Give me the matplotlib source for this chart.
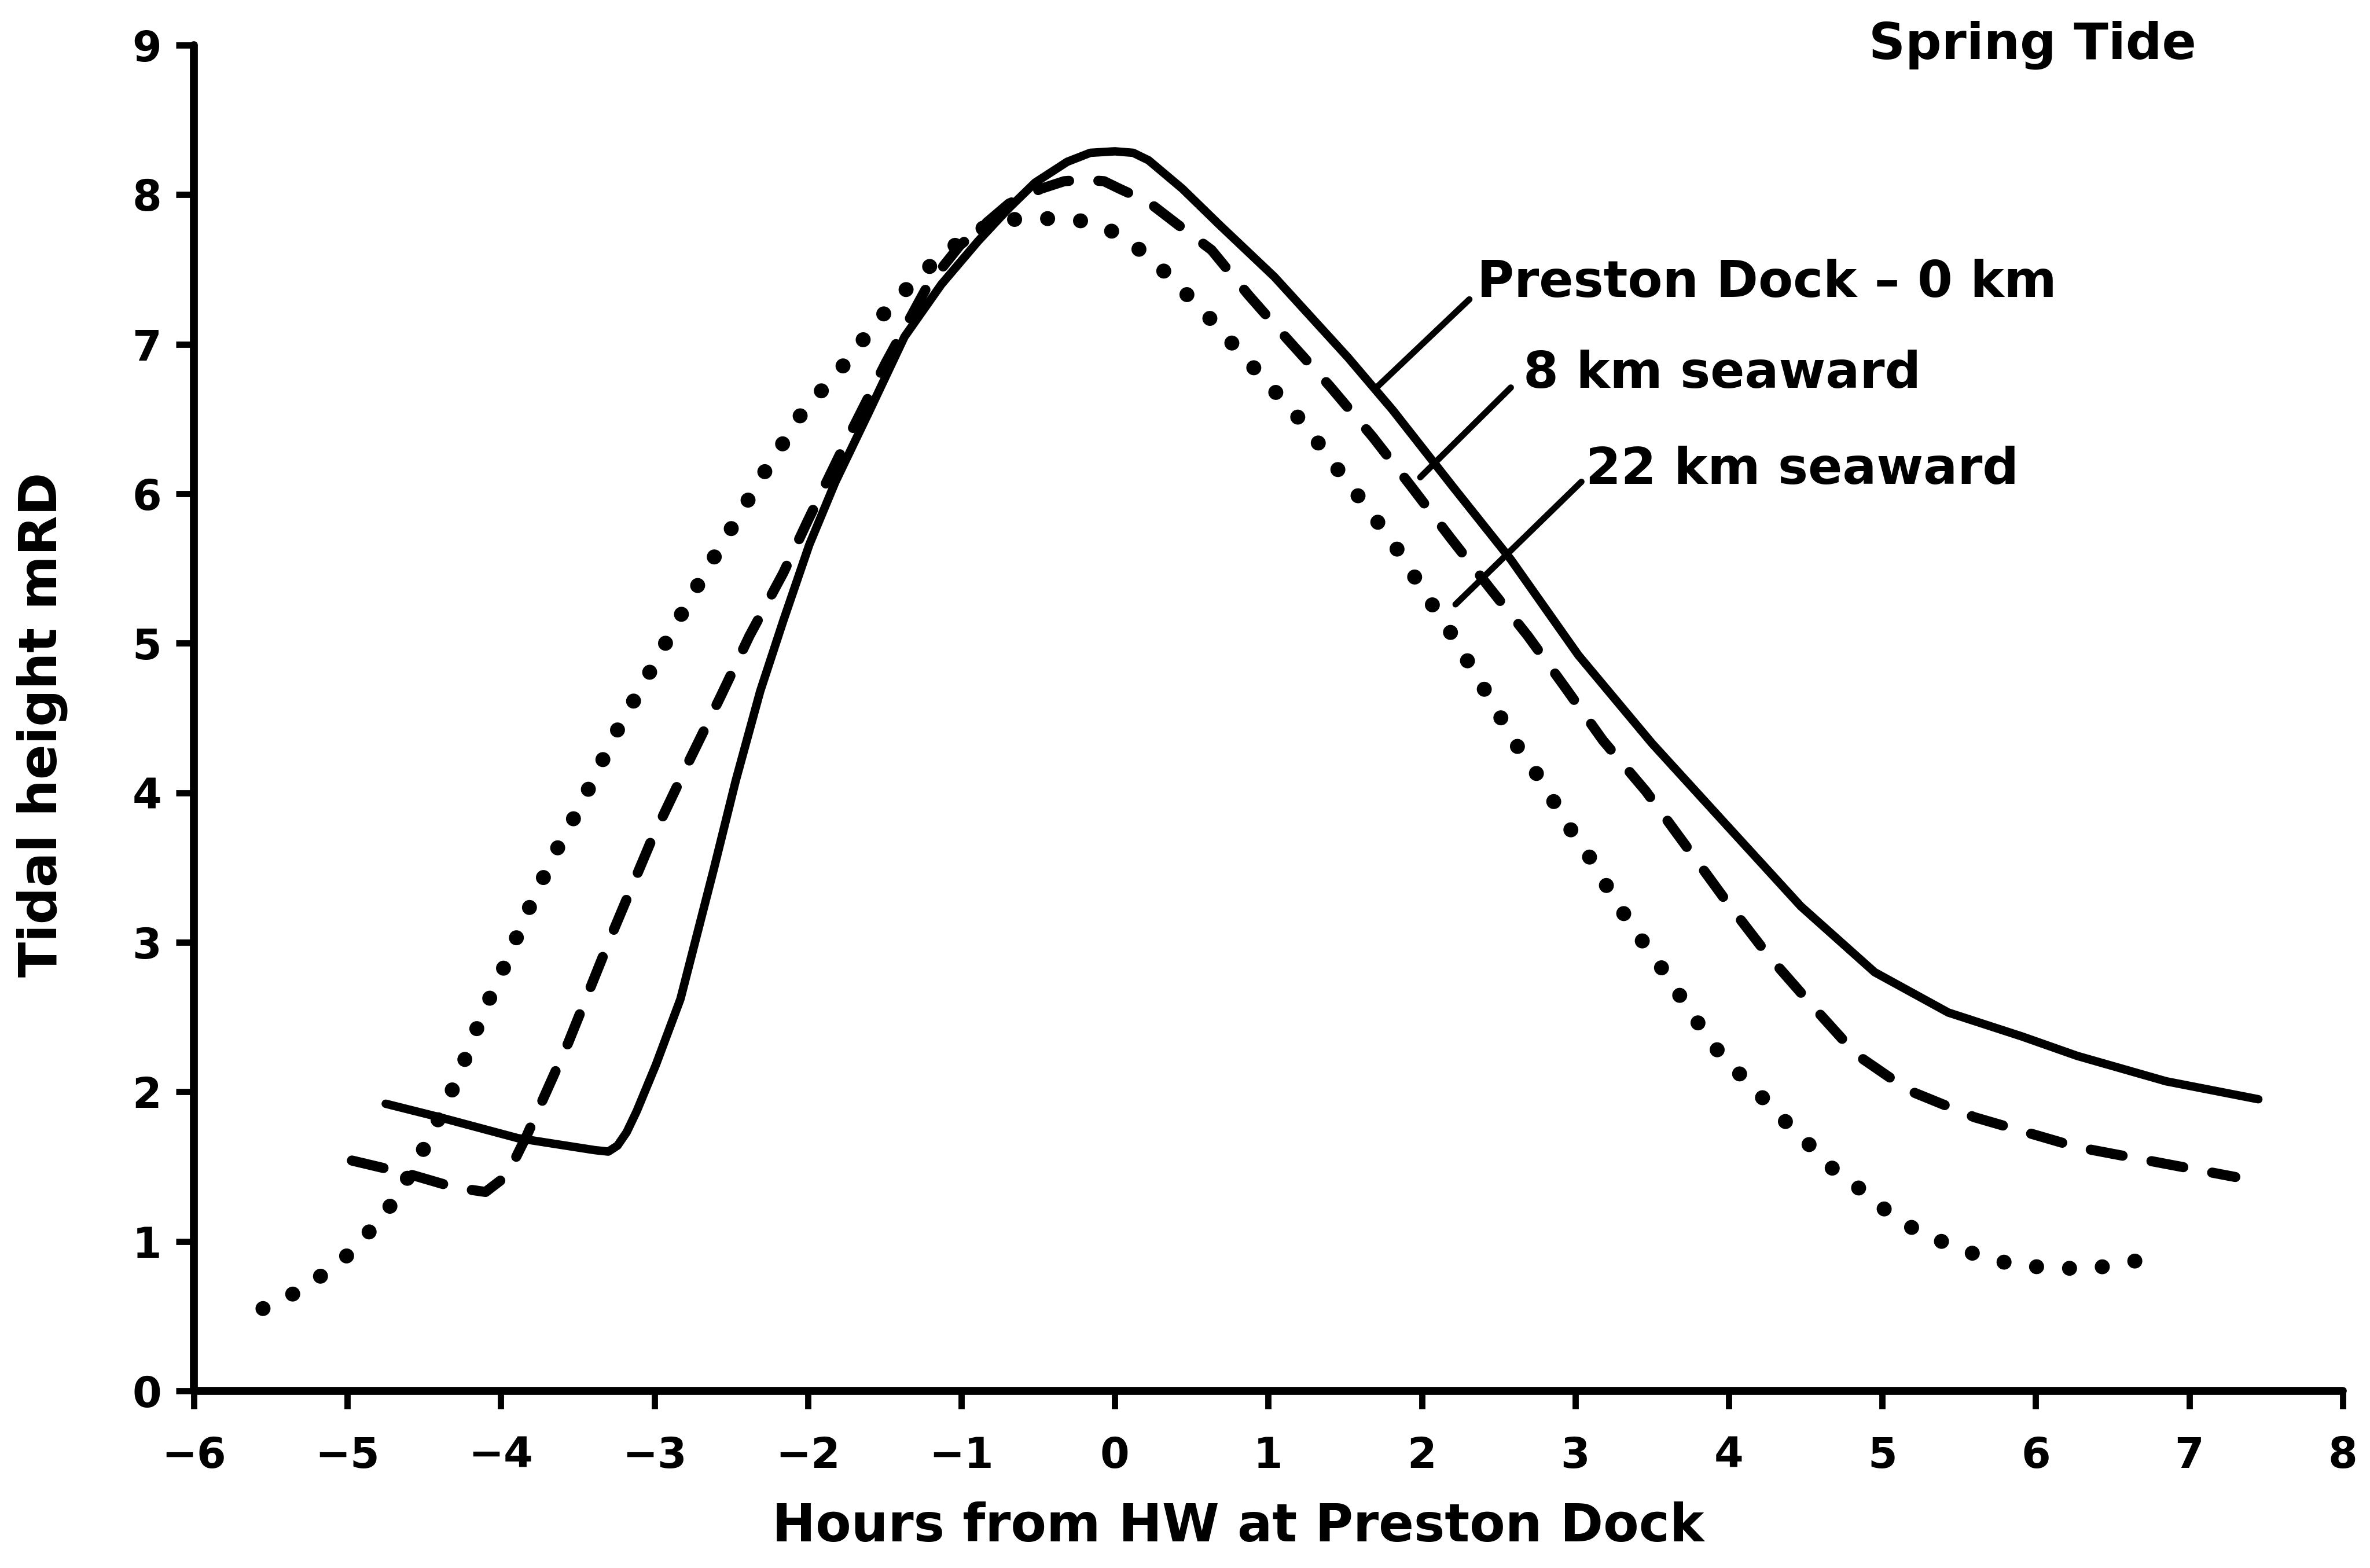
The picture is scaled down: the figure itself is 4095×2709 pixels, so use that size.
import matplotlib
matplotlib.use("Agg")
import matplotlib.pyplot as plt

plt.rcParams['font.family'] = ['DejaVu Sans']
plt.rcParams['font.weight'] = 'bold'

# ---- data ----
# Preston Dock - 0 km (solid)
h_0km = [-4.75, -4.40, -3.89, -3.39, -3.30, -3.24, -3.18, -3.115, -2.99, -2.83, -2.61,
         -2.47, -2.31, -2.16, -1.99, -1.82, -1.60, -1.37, -1.13, -0.89, -0.69, -0.52,
         -0.31, -0.16, 0.0, 0.12, 0.22, 0.44, 0.68, 1.04, 1.52, 1.81, 2.20, 2.58, 3.02,
         3.50, 3.98, 4.47, 4.95, 5.43, 5.91, 6.27, 6.85, 7.45]
v_0km = [1.92, 1.83, 1.69, 1.61, 1.60, 1.64, 1.73, 1.87, 2.18, 2.62, 3.50,
         4.08, 4.68, 5.15, 5.66, 6.08, 6.55, 7.05, 7.40, 7.69, 7.91, 8.08,
         8.22, 8.28, 8.29, 8.28, 8.23, 8.04, 7.80, 7.45, 6.91, 6.56, 6.05, 5.56, 4.92,
         4.33, 3.79, 3.24, 2.80, 2.53, 2.37, 2.24, 2.07, 1.95]

# 8 km seaward (dashed)
h_8km = [-4.97, -4.60, -4.30, -4.10, -3.96, -3.83, -3.56, -3.29, -3.02, -2.77, -2.57,
         -2.38, -2.16, -2.00, -1.75, -1.49, -1.22, -1.01, -0.69, -0.48, -0.33, -0.20,
         -0.07, 0.03, 0.22, 0.41, 0.63, 0.87, 1.11, 1.40, 1.68, 1.93, 2.19, 2.45, 2.69,
         2.93, 3.18, 3.46, 3.71, 3.98, 4.25, 4.54, 4.83, 5.17, 5.60, 6.27, 7.30]
v_8km = [1.54, 1.45, 1.36, 1.33, 1.44, 1.71, 2.33, 3.02, 3.68, 4.22, 4.64,
         5.05, 5.47, 5.82, 6.35, 6.88, 7.39, 7.66, 7.94, 8.04, 8.09, 8.10,
         8.09, 8.04, 7.95, 7.80, 7.63, 7.33, 7.05, 6.72, 6.38, 6.05, 5.70, 5.36, 5.05,
         4.71, 4.35, 4.01, 3.66, 3.28, 2.92, 2.58, 2.25, 2.01, 1.83, 1.63, 1.43]

# 22 km seaward (dotted)
h_22km = [-5.55, -5.35, -5.17, -4.97, -4.81, -4.68, -4.48, -4.29, -4.15, -4.05, -3.94,
          -3.85, -3.76, -3.68, -3.57, -3.46, -3.36, -3.24, -3.11, -2.99, -2.88, -2.76,
          -2.66, -2.55, -2.45, -2.32, -2.22, -2.12, -2.01, -1.89, -1.75, -1.61, -1.46,
          -1.27, -1.10, -0.90, -0.72, -0.57, -0.38, -0.17, 0.04, 0.20, 0.35, 0.49, 0.65,
          0.82, 0.96, 1.09, 1.22, 1.34, 1.49, 1.62, 1.77, 1.90, 2.01, 2.13, 2.27, 2.38,
          2.51, 2.64, 2.76, 2.99, 3.12, 3.23, 3.36, 3.47, 3.61, 3.72, 3.82, 3.96, 4.08,
          4.22, 4.37, 4.53, 4.66, 4.83, 5.02, 5.21, 5.45, 5.67, 5.92, 6.12, 6.31, 6.50,
          6.71]
v_22km = [0.55, 0.65, 0.77, 0.93, 1.12, 1.29, 1.66, 2.07, 2.44, 2.68, 2.92,
          3.16, 3.34, 3.54, 3.74, 3.96, 4.17, 4.42, 4.66, 4.88, 5.09, 5.31,
          5.49, 5.68, 5.85, 6.08, 6.25, 6.40, 6.59, 6.71, 6.88, 7.07, 7.26,
          7.46, 7.62, 7.76, 7.83, 7.84, 7.84, 7.82, 7.73, 7.60, 7.46, 7.31, 7.14,
          6.94, 6.78, 6.63, 6.48, 6.32, 6.11, 5.94, 5.73, 5.54, 5.34, 5.17, 4.93, 4.74,
          4.51, 4.28, 4.11, 3.72, 3.53, 3.33, 3.12, 2.96, 2.76, 2.58, 2.43, 2.23, 2.11,
          1.96, 1.80, 1.64, 1.50, 1.37, 1.21, 1.08, 0.97, 0.89, 0.83, 0.83, 0.81, 0.84,
          0.88]

series_labels = ["Preston Dock \u2013 0 km", "8 km seaward", "22 km seaward"]
label_pos = [(2.36, 7.41), (2.66, 6.80), (3.07, 6.16)]
leader_start = [(1.715, 6.72), (1.99, 6.11), (2.22, 5.26)]
leader_end = [(2.31, 7.30), (2.58, 6.71), (3.04, 6.08)]

x_ticks = list(range(-6, 9))
y_ticks = list(range(0, 10))

# ---- figure ----
fig = plt.figure(figsize=(13.65, 9.03), dpi=300)
ax = fig.add_axes([0.0818, 0.1130, 0.9067, 0.8582])

ax.plot(h_0km, v_0km, color='black', lw=3.5, solid_capstyle='round',
        solid_joinstyle='round')
ax.plot(h_8km, v_8km, color='black', lw=4.2, linestyle=(0, (3.2, 2.9)),
        dash_capstyle='round', dash_joinstyle='round')
ax.plot(h_22km, v_22km, color='black', lw=6.2, linestyle=(0, (0.01, 2.2)),
        dash_capstyle='round')

for lab, pos, s, e in zip(series_labels, label_pos, leader_start, leader_end):
    ax.plot([s[0], e[0]], [s[1], e[1]], color='black', lw=2.6,
            solid_capstyle='round')
    ax.text(pos[0], pos[1], lab, ha='left', va='center', fontsize=21,
            fontweight='bold')

ax.text(5.98, 9.0, "Spring Tide", ha='center', va='center', fontsize=21,
        fontweight='bold', clip_on=False)

ax.set_xlim(-6, 8)
ax.set_ylim(0, 9)
ax.set_xticks(x_ticks)
ax.set_yticks(y_ticks)
ax.tick_params(axis='both', direction='out', length=7.4, width=2.6,
               labelsize=17.5, color='black')
ax.tick_params(axis='x', pad=11)
ax.tick_params(axis='y', pad=6)
for lbl in ax.get_xticklabels() + ax.get_yticklabels():
    lbl.set_fontweight('bold')

for side in ['top', 'right']:
    ax.spines[side].set_visible(False)
for side in ['left', 'bottom']:
    ax.spines[side].set_linewidth(3.3)
    ax.spines[side].set_capstyle('round')

ax.set_xlabel("Hours from HW at Preston Dock", fontsize=21.5, fontweight='bold')
ax.set_ylabel("Tidal height mRD", fontsize=21.5, fontweight='bold')
ax.xaxis.set_label_coords(0.486, -0.101)
ax.xaxis.label.set_va('center')
ax.yaxis.set_label_coords(-0.0706, 0.495)
ax.yaxis.label.set_va('center')

fig.savefig("out.png", dpi=300, facecolor='white')
